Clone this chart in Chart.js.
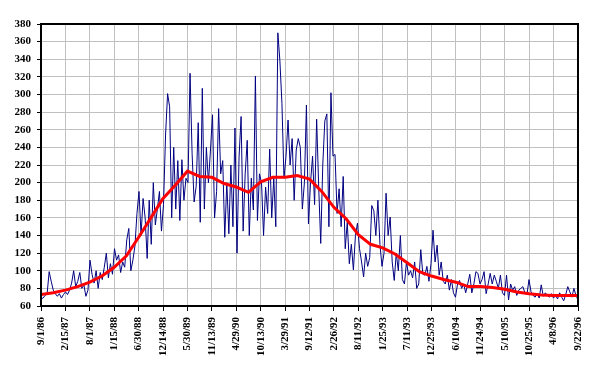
<!DOCTYPE html>
<html>
<head>
<meta charset="utf-8">
<script src="https://cdn.jsdelivr.net/npm/chart.js@4"></script>
<style>
  html, body { margin: 0; padding: 0; background: #fff; }
  canvas { display: block; }
</style>
</head>
<body>
<canvas id="myChart" width="601" height="375"></canvas>
<script>
// tick labels, one every 167 days from 9/1/86
const tickLabels = ['9/1/86', '2/15/87', '8/1/87', '1/15/88', '6/30/88', '12/14/88', '5/30/89',
    '11/13/89', '4/29/90', '10/13/90', '3/29/91', '9/12/91', '2/26/92', '8/11/92', '1/25/93',
    '7/11/93', '12/25/93', '6/10/94', '11/24/94', '5/10/95', '10/25/95', '4/8/96', '9/22/96'];
const spanDays = 3674;
const tickDays = 167;

// raw series, evenly sampled over the whole span
const rawValues = [
    68, 69, 72, 74, 99, 88, 78, 74, 71, 74, 69, 73,
    76, 73, 78, 86, 100, 82, 88, 98, 80, 84, 71, 78,
    112, 96, 86, 100, 80, 98, 90, 104, 120, 92, 108, 96,
    125, 112, 118, 98, 110, 104, 135, 148, 100, 112, 128, 165,
    190, 140, 182, 160, 114, 180, 130, 200, 152, 170, 190, 145,
    175, 254, 301, 286, 160, 240, 170, 225, 157, 226, 180, 205,
    200, 324, 233, 178, 196, 268, 155, 307, 170, 240, 200, 237,
    277, 160, 190, 284, 210, 225, 138, 200, 142, 220, 150, 262,
    120, 229, 275, 145, 210, 248, 140, 205, 169, 321, 157, 210,
    200, 140, 195, 165, 238, 160, 205, 150, 370, 338, 290, 205,
    230, 271, 220, 250, 180, 237, 250, 240, 170, 200, 288, 153,
    200, 230, 175, 272, 195, 131, 220, 270, 278, 150, 302, 230,
    232, 165, 193, 150, 207, 125, 155, 108, 130, 101, 140, 154,
    125, 110, 93, 120, 105, 115, 174, 168, 140, 180, 130, 105,
    120, 188, 140, 161, 110, 89, 120, 100, 140, 90, 85, 110,
    95, 100, 92, 110, 80, 85, 124, 96, 95, 105, 88, 108,
    146, 110, 129, 95, 110, 88, 85, 95, 78, 90, 75, 70,
    85, 89, 80, 85, 75, 85, 96, 75, 85, 99, 97, 85,
    90, 99, 74, 85, 97, 85, 95, 88, 80, 95, 75, 72,
    95, 67, 85, 78, 82, 72, 78, 80, 82, 75, 73, 90,
    76, 72, 70, 74, 69, 84, 71, 75, 72, 70, 74, 69,
    72, 68, 75, 70, 66, 73, 82, 76, 70, 80, 72, 67
];

// trend line, one value every half tick interval
const trendValues = [
    73, 75, 78, 82, 87, 94, 104, 117, 138, 160, 182, 197, 213, 207, 206, 199,
    195, 189, 201, 206, 206, 208, 204, 190, 172, 159, 141, 130, 126, 119, 109,
    99, 94, 90, 87, 82, 82, 81, 79, 76, 74, 72.5, 72, 72, 72
];

const rawStep = spanDays / (rawValues.length - 1);
const trendStep = tickDays / 2;

const serifFont = { family: "'Liberation Serif', 'Times New Roman', serif", size: 11, weight: 'bold' };

const frame = {
    id: 'frame',
    afterDraw(chart) {
        const { ctx, chartArea: a } = chart;
        ctx.save();
        ctx.strokeStyle = '#000';
        ctx.lineWidth = 2;
        ctx.strokeRect(a.left, a.top, a.right - a.left, a.bottom - a.top);
        ctx.restore();
    }
};

new Chart(document.getElementById('myChart'), {
    type: 'line',
    data: {
        datasets: [{
            data: trendValues.map((v, i) => ({ x: i * trendStep, y: v })),
            borderColor: '#ff0000',
            borderWidth: 3,
            pointRadius: 0
        }, {
            data: rawValues.map((v, i) => ({ x: i * rawStep, y: v })),
            borderColor: '#000080',
            borderWidth: 1,
            pointRadius: 0
        }]
    },
    options: {
        responsive: false,
        animation: false,
        devicePixelRatio: 1,
        layout: { padding: { left: 0, top: 24, right: 23, bottom: 0 } },
        plugins: { legend: { display: false }, tooltip: { enabled: false } },
        scales: {
            x: {
                type: 'linear',
                min: 0,
                max: spanDays,
                afterFit: (s) => { s.height = 69; },
                grid: { color: '#c0c0c0', tickColor: '#000', tickLength: 5 },
                border: { color: '#000', width: 2 },
                ticks: {
                    stepSize: tickDays,
                    autoSkip: false,
                    minRotation: 90,
                    maxRotation: 90,
                    padding: 6,
                    color: '#000',
                    font: serifFont,
                    callback: (value, index) => tickLabels[index]
                }
            },
            y: {
                min: 60,
                max: 380,
                afterFit: (s) => { s.width = 41; },
                grid: { color: '#c0c0c0', tickColor: '#000', tickLength: 4 },
                border: { color: '#000', width: 2 },
                ticks: { stepSize: 20, padding: 6, color: '#000', font: serifFont }
            }
        }
    },
    plugins: [frame]
});
</script>
</body>
</html>
